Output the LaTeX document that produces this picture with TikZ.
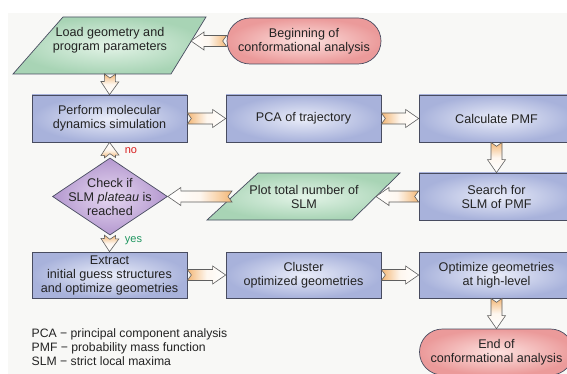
\documentclass[tikz,border=0pt]{standalone}
\usepackage{fontspec}
\setmainfont{Liberation Sans}
\usetikzlibrary{shapes.geometric,calc}
\definecolor{bgc}{RGB}{248,248,246}
\definecolor{txt}{RGB}{35,35,35}
\definecolor{edge}{RGB}{72,76,96}
\definecolor{boxin}{RGB}{234,237,249}
\definecolor{boxout}{RGB}{168,178,219}
\definecolor{grin}{RGB}{228,244,232}
\definecolor{grout}{RGB}{168,212,181}
\definecolor{pkin}{RGB}{253,226,224}
\definecolor{pkout}{RGB}{235,154,154}
\definecolor{puin}{RGB}{230,216,241}
\definecolor{puout}{RGB}{180,152,207}
\definecolor{aor}{RGB}{243,183,118}
\definecolor{aedge}{RGB}{95,95,95}
\definecolor{nored}{RGB}{215,30,30}
\definecolor{yesgr}{RGB}{30,150,95}
\tikzset{
 base/.style={draw=edge, line width=0.7pt, text=txt, align=center,
   font=\fontsize{12.6}{14}\selectfont, inner sep=2pt},
 procbox/.style={base, rectangle, minimum width=155pt, minimum height=47pt,
   inner color=boxin, outer color=boxout},
 iofill/.style={draw=edge, line width=0.7pt, line join=miter, inner color=grin, outer color=grout},
 termbox/.style={base, rectangle, rounded corners=23pt, minimum width=154pt,
   minimum height=46pt, inner color=pkin, outer color=pkout},
 decbox/.style={base, diamond, minimum width=115pt, minimum height=77pt,
   inner sep=0pt, inner color=puin, outer color=puout},
 lbl/.style={text=txt, align=center, font=\fontsize{12.6}{14}\selectfont, inner sep=0pt},
 barr/.style={draw=aedge, line width=0.6pt, line join=miter},
 ar/.style={barr, left color=aor, right color=white, middle color=aor!12!white},
 al/.style={barr, right color=aor, left color=white, middle color=aor!12!white},
 ad/.style={barr, top color=aor, bottom color=white, middle color=aor!12!white},
 au/.style={barr, bottom color=aor, top color=white, middle color=aor!12!white},
}
\newcommand\barrow[3]{%
 \path[#1] let \p1=(#2), \p2=(#3), \n1={atan2(\y2-\y1,\x2-\x1)},
   \n2={veclen(\x2-\x1,\y2-\y1)} in
  ([shift={(\p1)},rotate=\n1]0pt,5.5pt) -- ([shift={(\p1)},rotate=\n1]4pt,0pt)
  -- ([shift={(\p1)},rotate=\n1]0pt,-5.5pt)
  -- ([shift={(\p1)},rotate=\n1]\n2*1pt-13pt,-5.5pt)
  -- ([shift={(\p1)},rotate=\n1]\n2*1pt-13pt,-9pt)
  -- ([shift={(\p1)},rotate=\n1]\n2*1pt,0pt)
  -- ([shift={(\p1)},rotate=\n1]\n2*1pt-13pt,9pt)
  -- ([shift={(\p1)},rotate=\n1]\n2*1pt-13pt,5.5pt) -- cycle;}
\begin{document}
\begin{tikzpicture}[x=1pt,y=-1pt]
\useasboundingbox (0,0) rectangle (567,374);
\fill[white] (0,0) rectangle (567,374);
\fill[bgc] (8,13) rectangle (567,374);
% input/output parallelograms
\path[iofill] (13,74) -- (63,17) -- (206,17) -- (171,74) -- cycle;
\coordinate (loadR) at (191,41);
\coordinate (loadB) at (110,74);
\node[lbl] (load) at (110,40) {Load geometry and\\program parameters};
\path[iofill] (207,220) -- (258,173) -- (400,173) -- (352,220) -- cycle;
\coordinate (plotR) at (376,196.5);
\coordinate (plotL) at (232,196.5);
\node[lbl] (plot) at (304,197) {Plot total number of\\SLM};
% nodes
\node[termbox] (begin) at (304,41) {Beginning of\\conformational analysis};
\node[procbox] (md) at (109.5,118.5) {Perform molecular\\dynamics simulation};
\node[procbox] (pca) at (303.5,118.5) {PCA of trajectory};
\node[procbox] (pmf) at (496.5,118.5) {Calculate PMF};
\node[procbox] (search) at (496.5,196.5) {Search for\\SLM of PMF};
\node[decbox] (chk) at (110,196.5) {};
\node[lbl] (chkt) at (110,197) {Check if\\SLM \textit{plateau} is\\reached};
\node[procbox, minimum height=46pt] (extract) at (109.5,275) {Extract\\initial guess structures\\and optimize geometries};
\node[procbox, minimum height=46pt] (cluster) at (303.5,275) {Cluster\\optimized geometries};
\node[procbox, minimum height=46pt] (opt) at (496.5,275) {Optimize geometries\\at high-level};
\node[termbox] (end) at (496.5,352) {End of\\conformational analysis};
\node[text=nored, font=\fontsize{11}{12}\selectfont, inner sep=0pt] (nolab) at (131,151) {no};
\node[text=yesgr, font=\fontsize{11}{12}\selectfont, inner sep=0pt] (yeslab) at (133.5,241) {yes};
\node[anchor=west, align=left, text=txt, font=\fontsize{12.2}{14}\selectfont, inner sep=0pt]
  (legend) at (31.5,347) {PCA − principal component analysis\\PMF − probability mass function\\SLM − strict local maxima};
% arrows
\barrow{al}{begin.west}{begin.west -| loadR}
\barrow{ad}{loadB}{md.north}
\barrow{ar}{md.east}{pca.west}
\barrow{ar}{pca.east}{pmf.west}
\barrow{ad}{pmf.south}{search.north}
\barrow{al}{search.west}{search.west -| plotR}
\barrow{al}{plotL |- chk.east}{chk.east}
\barrow{au}{chk.north}{md.south}
\barrow{ad}{chk.south}{extract.north}
\barrow{ar}{extract.east}{cluster.west}
\barrow{ar}{cluster.east}{opt.west}
\barrow{ad}{opt.south}{end.north}
\end{tikzpicture}
\end{document}
